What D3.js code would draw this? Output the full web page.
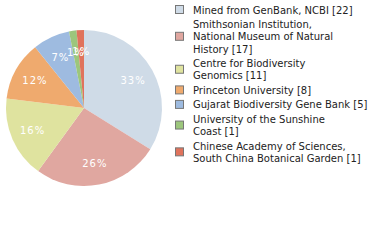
<!DOCTYPE html>
<html><head><meta charset="utf-8">
<script src="https://cdn.jsdelivr.net/npm/d3@7"></script>
<style>body{margin:0;background:#fff}svg{display:block}</style>
</head><body>
<script>
const categories = ["Mined from GenBank, NCBI","Smithsonian Institution, National Museum of Natural History","Centre for Biodiversity Genomics","Princeton University","Gujarat Biodiversity Gene Bank","University of the Sunshine Coast","Chinese Academy of Sciences, South China Botanical Garden"];
const legendLines = [["Mined from GenBank, NCBI [22]"],["Smithsonian Institution,","National Museum of Natural","History [17]"],["Centre for Biodiversity","Genomics [11]"],["Princeton University [8]"],["Gujarat Biodiversity Gene Bank [5]"],["University of the Sunshine","Coast [1]"],["Chinese Academy of Sciences,","South China Botanical Garden [1]"]];
const values = [22,17,11,8,5,1,1];
const colors = ["#cfdbe7","#e0a7a0","#dfe39f","#efaa6e","#9ebbe0","#9cc67c","#e0735c"];

const W=380,H=240;
const svg=d3.select("body").append("svg").attr("width",W).attr("height",H);
const cx=84,cy=108,r=78;
const total=d3.sum(values);
const pie=d3.pie().sort(null).value(d=>d)(values);
const arc=d3.arc().innerRadius(0).outerRadius(r);
const labelArc=d3.arc().innerRadius(r*0.72).outerRadius(r*0.72);
const g=svg.append("g").attr("transform",`translate(${cx},${cy})`);
g.selectAll("path").data(pie).join("path").attr("d",arc).attr("fill",(d,i)=>colors[i]);
g.selectAll("text").data(pie).join("text")
 .attr("transform",d=>`translate(${labelArc.centroid(d)})`)
 .attr("text-anchor","middle").attr("dy","0.35em")
 .attr("fill","#fff").attr("font-family","DejaVu Sans").attr("font-size","10px")
 .attr("letter-spacing","1px")
 .text(d=>Math.floor(d.data/total*100)+"%");

const lg=svg.append("g");
let y=10;
const lh=12.3;
legendLines.forEach((lines,i)=>{
  const n=lines.length;
  const mid=y+(n-1)*lh/2;
  lg.append("rect").attr("x",175.5).attr("y",mid-4.5).attr("width",8).attr("height",8)
    .attr("fill",colors[i]).attr("stroke","#777").attr("stroke-width",1);
  lines.forEach((t,j)=>{
    lg.append("text").attr("x",193).attr("y",y+j*lh).attr("dy","0.35em")
      .attr("font-family","DejaVu Sans").attr("font-size","10px").attr("fill","#222").text(t);
  });
  y+=n*lh+2.2;
});
</script>
</body></html>
